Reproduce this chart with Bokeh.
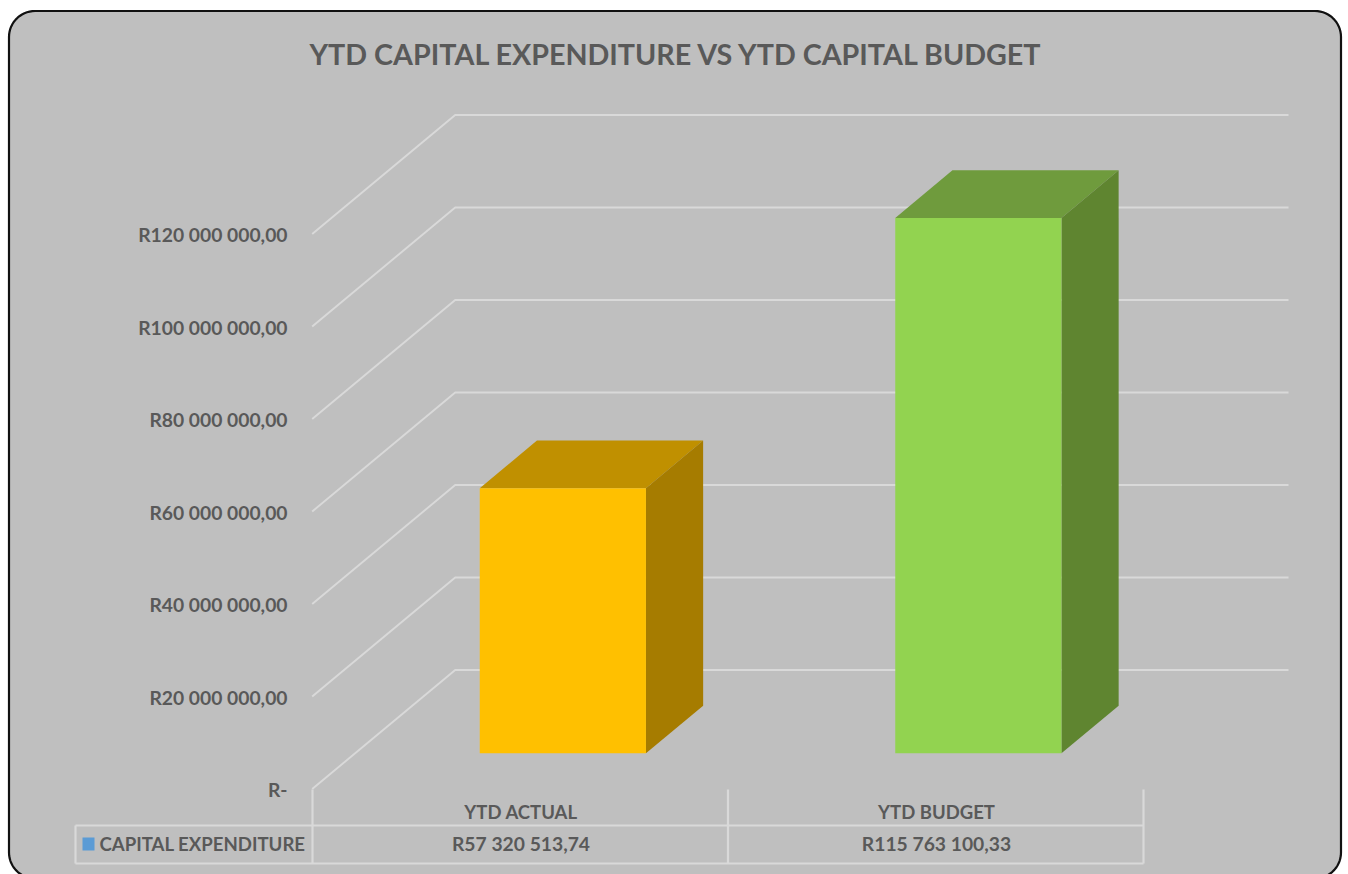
import numpy as np
from bokeh.plotting import figure
from bokeh.models import Range1d
from bokeh.core.properties import value
from bokeh.embed import file_html
from bokeh.resources import INLINE

title_text = "YTD CAPITAL EXPENDITURE  VS YTD CAPITAL BUDGET"
categories = ["YTD ACTUAL", "YTD BUDGET"]
series_name = "CAPITAL EXPENDITURE"
series_values = [57320513.74, 115763100.33]
value_labels = ["R57 320 513,74", "R115 763 100,33"]
tick_values = [0, 20e6, 40e6, 60e6, 80e6, 100e6, 120e6]
tick_labels = ["R-", "R20 000 000,00", "R40 000 000,00", "R60 000 000,00",
               "R80 000 000,00", "R100 000 000,00", "R120 000 000,00"]
front_colors = ["#FFC000", "#92D350"]
top_colors = ["#C09000", "#6F9B3D"]
side_colors = ["#A67C00", "#5F8530"]

# layout: page pixels of the front-floor origin and the scale of each axis
W, H = 1348, 874
OX, OY = 311.7, 788.5
SLOT = 415.5
PX_PER_RAND = 92.5 / 20e6
DEPTH_X, DEPTH_Y = 143.0, 119.0
FONT = value("Lato")
TXT = "#595959"
GRID = "#D9D9D9"

def X(px):
    return (px - OX) / SLOT

def Y(px):
    return (OY - px) / PX_PER_RAND

dx = DEPTH_X / SLOT
dy = DEPTH_Y / PX_PER_RAND

p = figure(width=W, height=H, output_backend="svg", toolbar_location=None,
           x_axis_type=None, y_axis_type=None, min_border=0,
           x_range=Range1d(X(0), X(W)), y_range=Range1d(Y(H), Y(0)))
p.outline_line_color = None
p.grid.visible = False
p.background_fill_color = "white"
p.border_fill_color = "white"

# rounded panel
l, t, r, b, rad = 8.5, 10.5, 1340.5, 878, 26
a = np.linspace(0, np.pi / 2, 16)
px = np.concatenate([l + rad - rad * np.cos(a), r - rad + rad * np.sin(a),
                     r - rad + rad * np.cos(a), l + rad - rad * np.sin(a)])
py = np.concatenate([t + rad - rad * np.sin(a), t + rad - rad * np.cos(a),
                     b - rad + rad * np.sin(a), b - rad + rad * np.cos(a)])
p.patch(X(px), Y(py), fill_color="#BFBFBF", line_color="#111111", line_width=2.2)

# gridlines: side wall and back wall
right_end = X(1288)
for v in tick_values:
    p.line([0, dx, right_end], [v, v + dy, v + dy], line_color=GRID, line_width=1.9)

# data table rules
rule_h = [(75, 1143, 825), (75, 1143, 863)]
for x0, x1, y in rule_h:
    p.line([X(x0), X(x1)], [Y(y), Y(y)], line_color=GRID, line_width=2.2)
for x, y0, y1 in [(75, 825, 863), (312, 789, 863), (727.5, 789, 863), (1143, 789, 863)]:
    p.line([X(x), X(x)], [Y(y0), Y(y1)], line_color=GRID, line_width=2.2)

# 3D bars
d0, d1, half = 0.3, 0.7, 0.2
for i, v in enumerate(series_values):
    x0 = i + 0.5 - half + d0 * dx
    x1 = i + 0.5 + half + d0 * dx
    y0 = d0 * dy
    y1 = v + d0 * dy
    ox = (d1 - d0) * dx
    oy = (d1 - d0) * dy
    p.patch([x0, x1, x1 + ox, x0 + ox], [y1, y1, y1 + oy, y1 + oy],
            fill_color=top_colors[i], line_color=None)
    p.patch([x1, x1 + ox, x1 + ox, x1], [y0, y0 + oy, y1 + oy, y1],
            fill_color=side_colors[i], line_color=None)
    p.patch([x0, x1, x1, x0], [y0, y0, y1, y1],
            fill_color=front_colors[i], line_color=None)

# title
p.text([X(680)], [Y(53)], text=[title_text], text_font=FONT, text_font_style="bold",
       text_font_size="28.7px", text_color=TXT, text_align="center", text_baseline="middle")

# y tick labels
p.text([X(287)] * len(tick_values), [v + Y(789) for v in tick_values], text=tick_labels,
       text_font=FONT, text_font_style="bold", text_font_size="19.3px", text_color=TXT,
       text_align="right", text_baseline="middle")

# category labels and table values
cx = [X(520.5), X(936)]
p.text(cx, [Y(811)] * 2, text=categories, text_font=FONT, text_font_style="bold",
       text_font_size="18.5px", text_color=TXT, text_align="center", text_baseline="middle")
p.text(cx, [Y(843)] * 2, text=value_labels, text_font=FONT, text_font_style="bold",
       text_font_size="19.3px", text_color=TXT, text_align="center", text_baseline="middle")
p.text([X(99)], [Y(843)], text=[series_name], text_font=FONT, text_font_style="bold",
       text_font_size="18.6px", text_color=TXT, text_align="left", text_baseline="middle")

# legend key
p.patch([X(82), X(94), X(94), X(82)], [Y(837), Y(837), Y(850), Y(850)],
        fill_color="#5B9BD5", line_color=None)

open("out.html", "w").write(file_html(p, INLINE))
